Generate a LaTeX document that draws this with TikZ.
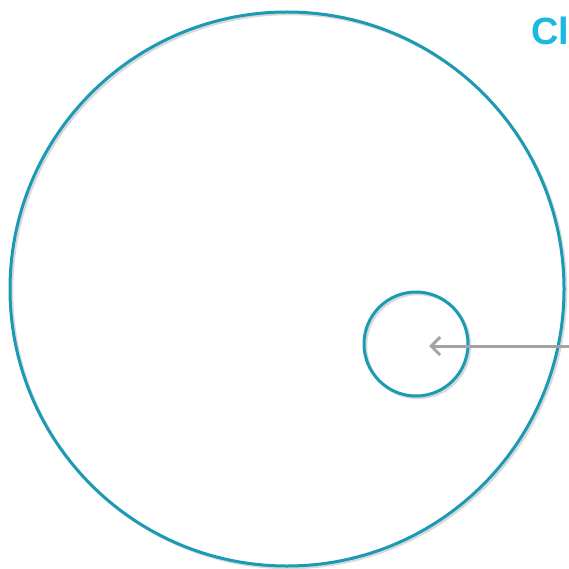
\documentclass[tikz,border=0pt]{standalone}
\usepackage{fontspec}
\setmainfont{Liberation Sans}
\usetikzlibrary{arrows.meta}
\definecolor{ringcol}{HTML}{1A9AB3}
\definecolor{titlecol}{HTML}{1CB8DF}
\definecolor{arrowgray}{HTML}{A3A3A3}
\tikzset{
  ringshadow/.style={draw=black!15, line width=2.5pt},
  ringline/.style={draw=ringcol, line width=3pt},
  pointer/.style={draw=arrowgray, line width=3pt, -{Straight Barb[length=9pt,width=18pt]}}
}
\begin{document}
\begin{tikzpicture}[x=1pt,y=-1pt]
\useasboundingbox (0,0) rectangle (569,569);
\coordinate (bigc) at (287,289);
\coordinate (smallc) at (416,344);
% soft shadows
\draw[ringshadow] ([shift={(2,2)}]bigc) circle[radius=277pt];
\draw[ringshadow] ([shift={(2,2)}]smallc) circle[radius=52pt];
% circles
\draw[ringline] (bigc) circle[radius=277pt];
\draw[ringline] (smallc) circle[radius=52pt];
% arrow
\coordinate (start) at (575,346);
\coordinate (tip) at (429,346);
\draw[pointer] (start) -- (tip);
% title (cut off at the right edge)
\node[anchor=west, inner sep=0pt, text=titlecol, font=\bfseries\fontsize{38}{40}\selectfont] (ttl) at (531,31) {Cl};
\end{tikzpicture}
\end{document}
